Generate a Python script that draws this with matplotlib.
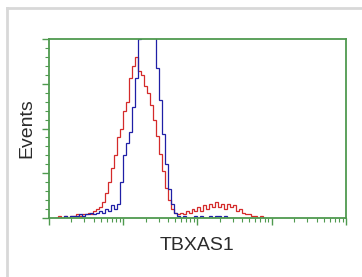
import matplotlib
matplotlib.use('Agg')
import matplotlib.pyplot as plt
from matplotlib.lines import Line2D
from matplotlib.ticker import LogLocator, MultipleLocator, NullFormatter
import numpy as np

# ================= DATA =================
# histogram counts on log-spaced bins (log10 of intensity), step 0.04 decades
bin_start = 0.08
bin_step = 0.04

red_counts = [0, 1, 0, 1, 0, 1, 1, 2, 1, 2, 2, 3, 2, 4, 5, 6, 9, 14, 20, 28,
              35, 45, 50, 60, 65, 78, 85, 90, 82, 80, 74, 70, 63, 55, 46, 36,
              26, 17, 10, 5, 3, 2, 3, 2, 4, 3, 5, 4, 6, 4, 7, 5, 8, 6, 9, 6,
              8, 5, 8, 6, 7, 4, 5, 3, 2, 2, 1, 1, 0, 1, 0]

blue_counts = [0, 0, 0, 1, 0, 1, 1, 1, 2, 1, 2, 2, 3, 2, 3, 4, 3, 5, 4, 7,
               5, 8, 20, 35, 42, 48, 62, 78, 100, 118, 125, 128, 122, 104,
               84, 66, 47, 30, 16, 8, 3, 1, 0, 1, 0, 0, 0, 1, 0, 1, 0, 0, 1,
               0, 1, 1, 0, 1, 0, 0, 0]

x_label = 'TBXAS1'
y_label = 'Events'

axis_color = '#4f9a4f'
red_color = '#d42a2a'
blue_color = '#1f1fa6'
text_color = '#2b2b2b'
# ========================================


def bin_edges(counts):
    return 10 ** (bin_start + bin_step * np.arange(len(counts) + 1))


fig = plt.figure(figsize=(3.62, 2.77), dpi=100)
ax = fig.add_axes([0.135, 0.213, 0.821, 0.646])

# red sample, blue control (step outlines)
for counts, color in [(red_counts, red_color), (blue_counts, blue_color)]:
    edges = bin_edges(counts)
    ax.stairs(counts, edges, color=color, linewidth=0.9)

ax.set_xscale('log')
ax.set_xlim(1, 1e4)
ax.set_ylim(0, 100)

ax.xaxis.set_major_locator(LogLocator(base=10, numticks=10))
ax.xaxis.set_minor_locator(LogLocator(base=10, subs=np.arange(2, 10), numticks=20))
ax.xaxis.set_major_formatter(NullFormatter())
ax.xaxis.set_minor_formatter(NullFormatter())
ax.yaxis.set_major_locator(MultipleLocator(25))
ax.yaxis.set_minor_locator(MultipleLocator(5))
ax.yaxis.set_major_formatter(NullFormatter())

ax.tick_params(which='major', length=5, width=1.0, color=axis_color)
ax.tick_params(which='minor', length=3, width=0.8, color=axis_color)

for spine in ax.spines.values():
    spine.set_color(axis_color)
    spine.set_linewidth(1.3)

ax.set_xlabel(x_label, fontsize=14, family='Liberation Sans', color=text_color, labelpad=5)
ax.set_ylabel(y_label, fontsize=14, family='Liberation Sans', color=text_color, labelpad=1)

# light gray frame along the top and left of the panel
frame_color = '#d8d8d8'
fig.add_artist(Line2D([7 / 362, 7 / 362], [0, 1 - 8 / 277], color=frame_color, linewidth=2))
fig.add_artist(Line2D([7 / 362, 1], [1 - 8 / 277, 1 - 8 / 277], color=frame_color, linewidth=2))

plt.savefig('out.png', dpi=100)
plt.close()
